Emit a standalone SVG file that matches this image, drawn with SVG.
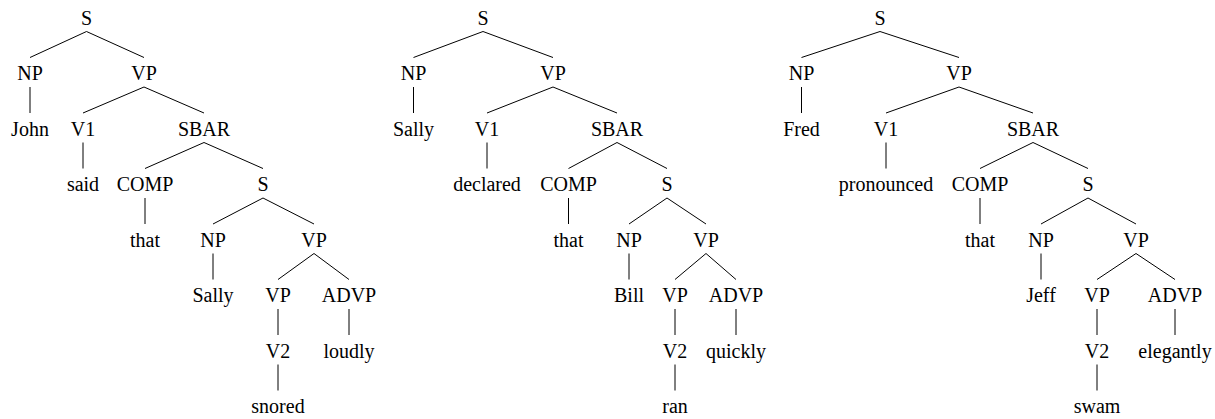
<svg xmlns="http://www.w3.org/2000/svg" width="1215" height="419" viewBox="0 0 1215 419">
<style>
text{font-family:"Liberation Serif","Times New Roman",serif;font-size:20px;fill:#000;text-anchor:middle}
line{stroke:#000;stroke-width:1}
</style>
<rect width="1215" height="419" fill="#fff"/>
<g id="connectors">
<line x1="86.5" y1="31.5" x2="30" y2="57.5"/>
<line x1="86.5" y1="31.5" x2="144" y2="57.5"/>
<line x1="30" y1="87" x2="30" y2="113"/>
<line x1="144" y1="87" x2="83" y2="113"/>
<line x1="144" y1="87" x2="204" y2="113"/>
<line x1="83" y1="142.5" x2="83" y2="168.5"/>
<line x1="204" y1="142.5" x2="145" y2="168.5"/>
<line x1="204" y1="142.5" x2="263" y2="168.5"/>
<line x1="145" y1="198" x2="145" y2="224"/>
<line x1="263" y1="198" x2="213" y2="224"/>
<line x1="263" y1="198" x2="314" y2="224"/>
<line x1="213" y1="253.5" x2="213" y2="279.5"/>
<line x1="314" y1="253.5" x2="278" y2="279.5"/>
<line x1="314" y1="253.5" x2="349" y2="279.5"/>
<line x1="278" y1="309" x2="278" y2="335"/>
<line x1="349" y1="309" x2="349" y2="335"/>
<line x1="278" y1="364.5" x2="278" y2="390.5"/>
<line x1="483" y1="31.5" x2="413.5" y2="57.5"/>
<line x1="483" y1="31.5" x2="553" y2="57.5"/>
<line x1="413.5" y1="87" x2="413.5" y2="113"/>
<line x1="553" y1="87" x2="487" y2="113"/>
<line x1="553" y1="87" x2="617" y2="113"/>
<line x1="487" y1="142.5" x2="487" y2="168.5"/>
<line x1="617" y1="142.5" x2="568.5" y2="168.5"/>
<line x1="617" y1="142.5" x2="667" y2="168.5"/>
<line x1="568.5" y1="198" x2="568.5" y2="224"/>
<line x1="667" y1="198" x2="629" y2="224"/>
<line x1="667" y1="198" x2="706" y2="224"/>
<line x1="629" y1="253.5" x2="629" y2="279.5"/>
<line x1="706" y1="253.5" x2="675" y2="279.5"/>
<line x1="706" y1="253.5" x2="736" y2="279.5"/>
<line x1="675" y1="309" x2="675" y2="335"/>
<line x1="736" y1="309" x2="736" y2="335"/>
<line x1="675" y1="364.5" x2="675" y2="390.5"/>
<line x1="880" y1="31.5" x2="801.5" y2="57.5"/>
<line x1="880" y1="31.5" x2="959" y2="57.5"/>
<line x1="801.5" y1="87" x2="801.5" y2="113"/>
<line x1="959" y1="87" x2="886" y2="113"/>
<line x1="959" y1="87" x2="1033" y2="113"/>
<line x1="886" y1="142.5" x2="886" y2="168.5"/>
<line x1="1033" y1="142.5" x2="980" y2="168.5"/>
<line x1="1033" y1="142.5" x2="1088" y2="168.5"/>
<line x1="980" y1="198" x2="980" y2="224"/>
<line x1="1088" y1="198" x2="1041" y2="224"/>
<line x1="1088" y1="198" x2="1136" y2="224"/>
<line x1="1041" y1="253.5" x2="1041" y2="279.5"/>
<line x1="1136" y1="253.5" x2="1097" y2="279.5"/>
<line x1="1136" y1="253.5" x2="1175" y2="279.5"/>
<line x1="1097" y1="309" x2="1097" y2="335"/>
<line x1="1175" y1="309" x2="1175" y2="335"/>
<line x1="1097" y1="364.5" x2="1097" y2="390.5"/>
</g>
<g id="tree1">
<g id="t1-S"><text x="86.5" y="24.5">S</text></g>
<g id="t1-NP"><text x="30" y="80">NP</text></g>
<g id="t1-VP"><text x="144" y="80">VP</text></g>
<g id="t1-John"><text x="30" y="135.5">John</text></g>
<g id="t1-V1"><text x="83" y="135.5">V1</text></g>
<g id="t1-SBAR"><text x="204" y="135.5">SBAR</text></g>
<g id="t1-said"><text x="83" y="191">said</text></g>
<g id="t1-COMP"><text x="145" y="191">COMP</text></g>
<g id="t1-S2"><text x="263" y="191">S</text></g>
<g id="t1-that"><text x="145" y="246.5">that</text></g>
<g id="t1-NP2"><text x="213" y="246.5">NP</text></g>
<g id="t1-VP2"><text x="314" y="246.5">VP</text></g>
<g id="t1-Sally"><text x="213" y="302">Sally</text></g>
<g id="t1-VP3"><text x="278" y="302">VP</text></g>
<g id="t1-ADVP"><text x="349" y="302">ADVP</text></g>
<g id="t1-V2"><text x="278" y="357.5">V2</text></g>
<g id="t1-loudly"><text x="349" y="357.5">loudly</text></g>
<g id="t1-snored"><text x="278" y="413">snored</text></g>
</g>
<g id="tree2">
<g id="t2-S"><text x="483" y="24.5">S</text></g>
<g id="t2-NP"><text x="413.5" y="80">NP</text></g>
<g id="t2-VP"><text x="553" y="80">VP</text></g>
<g id="t2-Sally"><text x="413.5" y="135.5">Sally</text></g>
<g id="t2-V1"><text x="487" y="135.5">V1</text></g>
<g id="t2-SBAR"><text x="617" y="135.5">SBAR</text></g>
<g id="t2-declared"><text x="487" y="191">declared</text></g>
<g id="t2-COMP"><text x="568.5" y="191">COMP</text></g>
<g id="t2-S2"><text x="667" y="191">S</text></g>
<g id="t2-that"><text x="568.5" y="246.5">that</text></g>
<g id="t2-NP2"><text x="629" y="246.5">NP</text></g>
<g id="t2-VP2"><text x="706" y="246.5">VP</text></g>
<g id="t2-Bill"><text x="629" y="302">Bill</text></g>
<g id="t2-VP3"><text x="675" y="302">VP</text></g>
<g id="t2-ADVP"><text x="736" y="302">ADVP</text></g>
<g id="t2-V2"><text x="675" y="357.5">V2</text></g>
<g id="t2-quickly"><text x="736" y="357.5">quickly</text></g>
<g id="t2-ran"><text x="675" y="413">ran</text></g>
</g>
<g id="tree3">
<g id="t3-S"><text x="880" y="24.5">S</text></g>
<g id="t3-NP"><text x="801.5" y="80">NP</text></g>
<g id="t3-VP"><text x="959" y="80">VP</text></g>
<g id="t3-Fred"><text x="801.5" y="135.5">Fred</text></g>
<g id="t3-V1"><text x="886" y="135.5">V1</text></g>
<g id="t3-SBAR"><text x="1033" y="135.5">SBAR</text></g>
<g id="t3-pronounced"><text x="886" y="191">pronounced</text></g>
<g id="t3-COMP"><text x="980" y="191">COMP</text></g>
<g id="t3-S2"><text x="1088" y="191">S</text></g>
<g id="t3-that"><text x="980" y="246.5">that</text></g>
<g id="t3-NP2"><text x="1041" y="246.5">NP</text></g>
<g id="t3-VP2"><text x="1136" y="246.5">VP</text></g>
<g id="t3-Jeff"><text x="1041" y="302">Jeff</text></g>
<g id="t3-VP3"><text x="1097" y="302">VP</text></g>
<g id="t3-ADVP"><text x="1175" y="302">ADVP</text></g>
<g id="t3-V2"><text x="1097" y="357.5">V2</text></g>
<g id="t3-elegantly"><text x="1175" y="357.5">elegantly</text></g>
<g id="t3-swam"><text x="1097" y="413">swam</text></g>
</g>
</svg>
